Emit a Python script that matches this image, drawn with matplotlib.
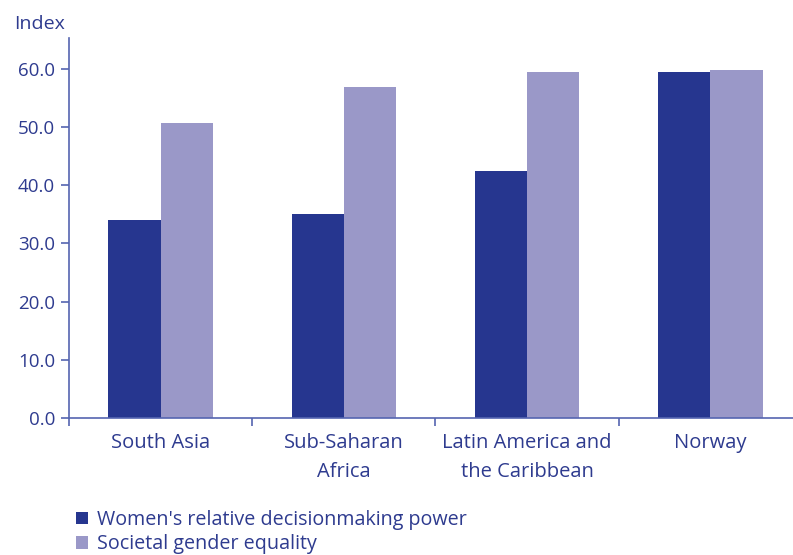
import matplotlib.pyplot as plt
import numpy as np

# 数据
regions = ['South Asia', 'Sub-Saharan\nAfrica', 'Latin America and\nthe Caribbean', 'Norway']
decision_power = [34.0, 35.0, 42.4, 59.4]
gender_equality = [50.7, 56.9, 59.4, 59.8]
series_names = ["Women's relative decisionmaking power", 'Societal gender equality']

dark = '#26368f'
light = '#9a98c8'
txt = '#2e3b8f'
axc = '#5565b0'

plt.rcParams['font.family'] = ['Open Sans', 'DejaVu Sans']

fig = plt.figure(figsize=(7.93, 5.55), dpi=100)
ax = fig.add_axes([69 / 793, 1 - 418 / 555, 733 / 793, 380 / 555])

x = np.arange(len(regions))
w = 0.285
b1 = ax.bar(x - w / 2, decision_power, w, color=dark, label=series_names[0])
b2 = ax.bar(x + w / 2, gender_equality, w, color=light, label=series_names[1])

ax.set_xlim(-0.5, 3.5)
ax.set_ylim(0, 65.3)

for s in ['top', 'right']:
    ax.spines[s].set_visible(False)
for s in ['left', 'bottom']:
    ax.spines[s].set_color(axc)
    ax.spines[s].set_linewidth(1.2)

ax.set_yticks(np.arange(0, 61, 10))
ax.set_yticklabels([f'{v:.1f}' for v in range(0, 61, 10)], fontsize=13.5, color=txt)
ax.tick_params(axis='y', direction='out', length=6, color=axc, width=1.2, pad=4)

ax.set_xticks(x)
ax.set_xticklabels(regions, fontsize=14.5, color=txt, linespacing=1.55)
ax.tick_params(axis='x', length=0, pad=11)
ax.set_xticks(np.arange(-0.5, 3.5, 1), minor=True)
ax.tick_params(axis='x', which='minor', direction='out', length=6, color=axc, width=1.2)

fig.text(14 / 793, 1 - 24 / 555, 'Index', fontsize=14, color=txt, va='center')

leg = fig.legend(handles=[b1, b2], loc='upper left', bbox_to_anchor=(68 / 793, 1 - 502 / 555),
                 frameon=False, fontsize=14.2, handlelength=0.6, handleheight=0.6,
                 handletextpad=0.45, labelspacing=0.22, borderaxespad=0)
for t in leg.get_texts():
    t.set_color(txt)

fig.savefig('out.png', dpi=100)
